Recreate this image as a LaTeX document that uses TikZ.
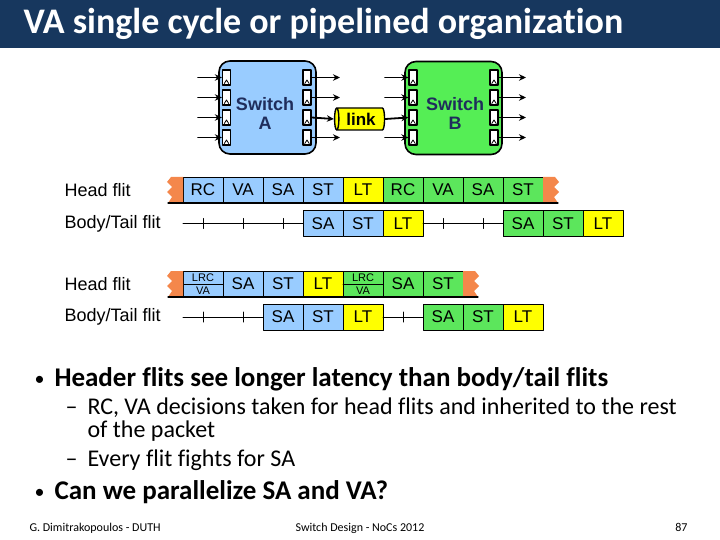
\documentclass[tikz,border=0pt]{standalone}
\usepackage{fontspec}
\setmainfont{Carlito}[Ligatures=NoCommon]
\newfontfamily\arialfont{Liberation Sans}
\usetikzlibrary{positioning,shapes.geometric,arrows.meta}
\definecolor{titlebg}{HTML}{17375E}
\definecolor{cellblue}{HTML}{99CCFF}
\definecolor{cellgreen}{HTML}{5CE65C}
\definecolor{cellyellow}{HTML}{FFFF00}
\definecolor{cellorange}{HTML}{F4874B}
\definecolor{swblue}{HTML}{99CCFF}
\definecolor{swgreen}{HTML}{55EE55}
\definecolor{swtext}{HTML}{1F2D5C}
\newcommand\cellfont{\arialfont\fontsize{17}{17}\selectfont}
\newcommand\jagL[1]{\fill[cellorange] (#1.north west) -- ++(-12,0) -- ++(-4,5) -- ++(5,5) -- ++(-5,5) -- ++(5,5) -- ++(-4,6) -- (#1.south west) -- cycle;}
\newcommand\jagR[1]{\fill[cellorange] (#1.north east) -- ++(12,0) -- ++(4,5) -- ++(-5,5) -- ++(5,5) -- ++(-5,5) -- ++(4,6) -- (#1.south east) -- cycle;}
\begin{document}
\begin{tikzpicture}[x=1pt,y=-1pt,>={Stealth[length=7pt,width=6.5pt]},line join=round,line cap=round]
\tikzset{cell/.style={draw,outer sep=0pt,inner sep=0pt,minimum width=40pt,minimum height=26pt,anchor=west,font=\cellfont},
  buf/.style={draw,fill=white,inner sep=0pt,minimum width=8pt,minimum height=15pt,line width=1.3pt,
    path picture={\draw[line width=.8pt] ([xshift=-2.2pt,yshift=1.5pt]path picture bounding box.south) -- ([yshift=5pt]path picture bounding box.south) -- ([xshift=2.2pt,yshift=1.5pt]path picture bounding box.south);}},
  switch/.style={draw,line width=1.6pt,rounded corners=11pt,minimum width=97pt,minimum height=93pt,inner sep=0pt},
  swlabel/.style={font=\arialfont\bfseries\fontsize{18}{19}\selectfont,text=swtext,align=center},
  port/.style={->,line width=1.8pt},
  rowlabel/.style={anchor=west,font=\arialfont\fontsize{18}{18}\selectfont},
  tick/.style={line width=1pt},
  small/.style={font=\arialfont\fontsize{11}{11}\selectfont,inner sep=0pt},
  bigtext/.style={anchor=base west,font=\bfseries\fontsize{27}{27}\selectfont},
  subtext/.style={anchor=base west,font=\fontsize{24}{24}\selectfont},
  foottext/.style={font=\fontsize{12}{12}\selectfont}}
\useasboundingbox (0,0) rectangle (720,540);
% title bar
\fill[titlebg] (0,0) rectangle (720,48);
\node[anchor=west,text=white,font=\bfseries\fontsize{36}{36}\selectfont] (title) at (20,24) {VA single cycle or pipelined organization};
% switches and link
\node[switch,fill=swblue] (swA) at (267.5,107.5) {};
\node[switch,fill=swgreen] (swB) at (453.5,108) {};
\node[swlabel] (swAtxt) at (265,113) {Switch\\A};
\node[swlabel] (swBtxt) at (455,113) {Switch\\B};
\foreach \y [count=\i] in {77.5,97.5,117.5,137.5} {
  \node[buf] (al\i) at (226.5,\y) {};
  \node[buf] (ar\i) at (307,\y) {};
  \node[buf] (bl\i) at (413,\y) {};
  \node[buf] (br\i) at (494,\y) {};
  \coordinate (ain\i) at (198,\y);
  \coordinate (aout\i) at (340,\y);
  \coordinate (bin\i) at (385,\y);
  \coordinate (bout\i) at (526,\y);
  \draw[port] (ain\i) -- (al\i.west);
  \draw[port] (bout\i -| br\i.east) -- (bout\i);
}
\node[cylinder,shape border rotate=180,draw,line width=1.4pt,fill=cellyellow,aspect=.35,minimum width=22pt,minimum height=50pt,inner sep=0pt,font=\arialfont\bfseries\fontsize{17}{17}\selectfont] (link) at (361,119) {link};
\foreach \i in {1,2,4} {
  \draw[port] (ar\i.east) -- (aout\i);
  \draw[port] (bin\i) -- (bl\i.west);
}
\draw[port] (ar3.east) -- (link.west);
\draw[port] (link.east) -- (bl3.west);
% single cycle VA
\node[rowlabel] (lh1) at (61,190) {Head flit};
\node[rowlabel] (lb1) at (61,223.5) {Body/Tail flit};
\foreach \t/\c [count=\i] in {RC/cellblue,VA/cellblue,SA/cellblue,ST/cellblue,LT/cellyellow,RC/cellgreen,VA/cellgreen,SA/cellgreen,ST/cellgreen}
  \node[cell,fill=\c] (ha\i) at ({143+40*\i},190) {\t};
\jagL{ha1}
\jagR{ha9}
\draw[line width=1.3pt] ([xshift=-15pt]ha1.south west) -- ([xshift=15pt]ha9.south east);
\foreach \t/\c/\x [count=\i] in {SA/cellblue/303,ST/cellblue/343,LT/cellyellow/383,SA/cellgreen/503,ST/cellgreen/543,LT/cellyellow/583}
  \node[cell,fill=\c] (ba\i) at (\x,223.5) {\t};
\coordinate (bastart) at (183,223.5);
\draw[tick] (bastart) -- (ba1.west);
\draw[tick] (ba3.east) -- (ba4.west);
\foreach \x in {203,243,283,443,483}
  \draw[tick] (\x,218.5) -- (\x,228.5);
% pipelined LRC/VA
\node[rowlabel] (lh2) at (61,284) {Head flit};
\node[rowlabel] (lb2) at (61,317) {Body/Tail flit};
\foreach \t/\c [count=\i] in {/cellblue,SA/cellblue,ST/cellblue,LT/cellyellow,/cellgreen,SA/cellgreen,ST/cellgreen}
  \node[cell,fill=\c] (hb\i) at ({143+40*\i},284) {\t};
\foreach \i in {1,5} {
  \draw[line width=1pt] (hb\i.west) -- (hb\i.east);
  \node[small] at ([yshift=6.5pt]hb\i.center) {LRC};
  \node[small] at ([yshift=-6.5pt]hb\i.center) {VA};
}
\jagL{hb1}
\jagR{hb7}
\draw[line width=1.3pt] ([xshift=-15pt]hb1.south west) -- ([xshift=15pt]hb7.south east);
\foreach \t/\c/\x [count=\i] in {SA/cellblue/263,ST/cellblue/303,LT/cellyellow/343,SA/cellgreen/423,ST/cellgreen/463,LT/cellyellow/503}
  \node[cell,fill=\c] (bb\i) at (\x,317) {\t};
\coordinate (bbstart) at (183,317);
\draw[tick] (bbstart) -- (bb1.west);
\draw[tick] (bb3.east) -- (bb4.west);
\foreach \x in {203,243,403}
  \draw[tick] (\x,312) -- (\x,322);
% bullets
\node[anchor=base west,font=\fontsize{20}{20}\selectfont] (dot1) at (31,385) {•};
\node[bigtext] (pt1) at (51,386) {Header flits see longer latency than body/tail flits};
\node[subtext] (dash1) at (62,414) {–};
\node[subtext] (sub1) at (84,414) {RC, VA decisions taken for head flits and inherited to the rest};
\node[subtext] (sub1b) at (84,437) {of the packet};
\node[subtext] (dash2) at (62,466) {–};
\node[subtext] (sub2) at (84,466) {Every flit fights for SA};
\node[anchor=base west,font=\fontsize{20}{20}\selectfont] (dot2) at (31,498) {•};
\node[bigtext] (pt2) at (51,499) {Can we parallelize SA and VA?};
% footer
\node[anchor=base west,foottext] (foot1) at (26,531) {G. Dimitrakopoulos - DUTH};
\node[anchor=base,foottext] (foot2) at (360,531) {Switch Design - NoCs 2012};
\node[anchor=base east,foottext] (foot3) at (691,531) {87};
\end{tikzpicture}
\end{document}
